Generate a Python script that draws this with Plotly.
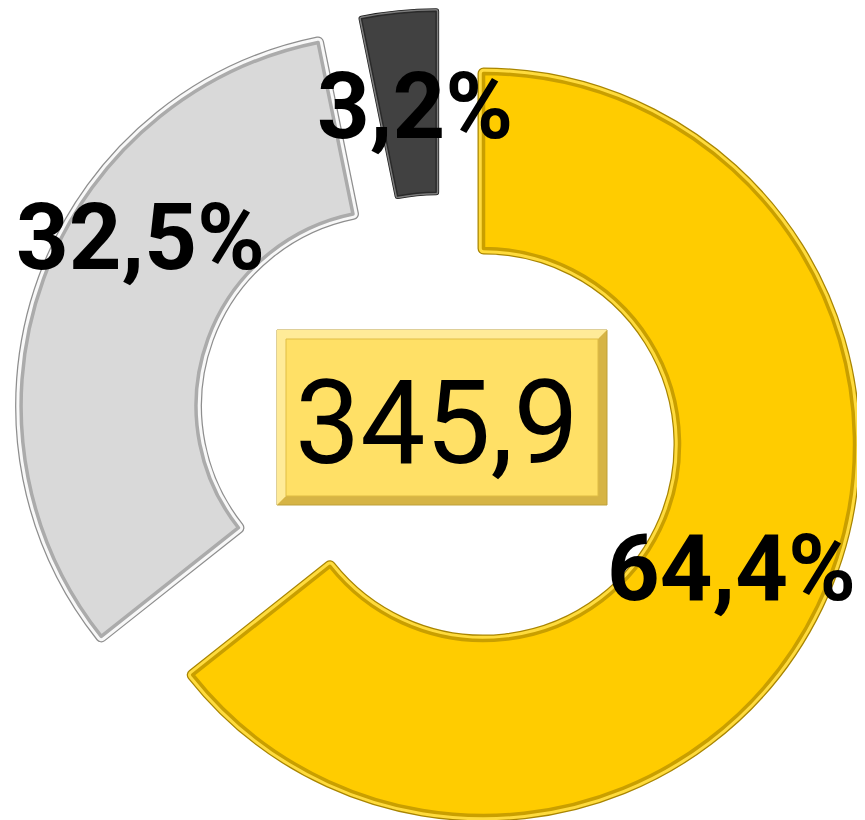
import math
import plotly.graph_objects as go

# ---------------- data ----------------
categories = ["Categoria 1", "Categoria 2", "Categoria 3"]
shares = [64.4, 32.5, 3.2]          # percent of total
total_value = 345.9

# ---------------- style ----------------
W, H = 865, 820
OFF = 8                              # page body margin of the html page
face_colors = ["#FFCC00", "#D9D9D9", "#414141"]
# bevel layers: (width, colour) drawn from bottom to top
bevel = [
    [(12, "#A98500"), (9.5, "#FFDB3C"), (3.5, "#C99F00")],
    [(12, "#8E8E8E"), (9.5, "#F8F8F8"), (3.5, "#ABABAB")],
    [(6, "#1C1C1C"), (4.5, "#7C7C7C"), (1.5, "#2A2A2A")],
]
pull_px = [45.0, 47.5, 38.5]        # explosion distance of each slice
center_px = (440.0, 423.5)          # un-exploded centre (screen px)
R_vis, r_vis = 377.0, 190.0         # visible outer / inner radius
edge_comp = 0.5                     # share of bevel overhang compensated on radial edges
label_nudge_deg = [0.8, 13.6, 1.4]
label_rad = [281, 306, 279]
label_size = 92

def fmt(v):
    return f"{v:.1f}".replace(".", ",")

tot = sum(shares)
bounds, mids = [], []
acc = 0.0
for v in shares:
    a0 = acc / tot * 360
    a1 = (acc + v) / tot * 360
    bounds.append((a0, a1))
    mids.append((a0 + a1) / 2)
    acc += v

def direction(deg):
    t = math.radians(deg)
    return math.sin(t), -math.cos(t)

def to_paper(x, y):
    return (x - OFF) / W, 1 - (y - OFF) / H

fig = go.Figure()
slice_centers = []
n = len(shares)
for i in range(n):
    dx, dy = direction(mids[i])
    vx = center_px[0] + pull_px[i] * dx
    vy = center_px[1] + pull_px[i] * dy
    slice_centers.append((vx, vy))
    e = bevel[i][0][0] / 2
    a0, a1 = bounds[i]
    n0 = direction(a0 + 90)
    n1 = direction(a1 - 90)
    det = n0[0] * n1[1] - n0[1] * n1[0]
    ec = e * edge_comp
    sx = (ec * n1[1] - n0[1] * ec) / det
    sy = (n0[0] * ec - ec * n1[0]) / det
    if abs(sx) > 6 or abs(sy) > 6:      # tiny slice: keep apex
        sx, sy = 0.0, 0.0
    tx, ty = vx + sx, vy + sy
    R_tr = R_vis - e
    r_tr = r_vis + e
    hole = r_tr / R_tr
    px0, py1 = to_paper(tx - R_tr, ty - R_tr)
    px1, py0 = to_paper(tx + R_tr, ty + R_tr)
    dom_x = [max(0, px0), min(1, px1)]
    dom_y = [max(0, py0), min(1, py1)]
    for lw, lc in bevel[i]:
        cols = [face_colors[i] if j == i else "rgba(0,0,0,0)" for j in range(n)]
        lcols = [lc if j == i else "rgba(0,0,0,0)" for j in range(n)]
        lws = [lw if j == i else 0 for j in range(n)]
        fig.add_trace(go.Pie(
            labels=categories, values=shares, sort=False, direction="clockwise",
            rotation=0, hole=hole, domain=dict(x=dom_x, y=dom_y),
            marker=dict(colors=cols, line=dict(color=lcols, width=lws)),
            textinfo="none", hoverinfo="skip", showlegend=False,
        ))

# percentage labels
for i in range(n):
    cx, cy = slice_centers[i]
    dx, dy = direction(mids[i] + label_nudge_deg[i])
    X, Y = to_paper(cx + label_rad[i] * dx, cy + label_rad[i] * dy)
    fig.add_annotation(
        x=X, y=Y, xref="paper", yref="paper",
        text=fmt(shares[i]) + "%", showarrow=False,
        xanchor="center", yanchor="middle",
        font=dict(family="Roboto, Open Sans, sans-serif", size=label_size,
                  color="black", weight="bold"),
    )

# centre box with bevel
bx0, by0, bx1, by1 = 277, 330, 607, 505
bv = 9
def path(pts):
    s = ""
    for k, (x, y) in enumerate(pts):
        X, Y = to_paper(x, y)
        s += ("M" if k == 0 else "L") + f"{X:.5f},{Y:.5f} "
    return s + "Z"

shapes = [
    dict(type="path", xref="paper", yref="paper",
         path=path([(bx0, by0), (bx1, by0), (bx1, by1), (bx0, by1)]),
         fillcolor="#D6B445", line=dict(color="#BFA13A", width=1)),
    dict(type="path", xref="paper", yref="paper",
         path=path([(bx0, by0), (bx1, by0), (bx1 - bv, by0 + bv),
                    (bx0 + bv, by0 + bv), (bx0 + bv, by1 - bv), (bx0, by1)]),
         fillcolor="#FFEB98", line=dict(width=0)),
    dict(type="path", xref="paper", yref="paper",
         path=path([(bx0 + bv, by0 + bv), (bx1 - bv, by0 + bv),
                    (bx1 - bv, by1 - bv), (bx0 + bv, by1 - bv)]),
         fillcolor="#FFE066", line=dict(color="#E0BD45", width=1)),
]
fig.update_layout(shapes=shapes)

TX, TY = to_paper(437, 423)
fig.add_annotation(
    x=TX, y=TY, xref="paper", yref="paper",
    text=fmt(total_value), showarrow=False, xanchor="center", yanchor="middle",
    font=dict(family="Roboto, sans-serif", size=116, color="black"),
)

fig.update_layout(
    width=W, height=H, margin=dict(l=0, r=0, t=0, b=0),
    paper_bgcolor="white", plot_bgcolor="white", showlegend=False,
)
fig.write_html("out.html")
